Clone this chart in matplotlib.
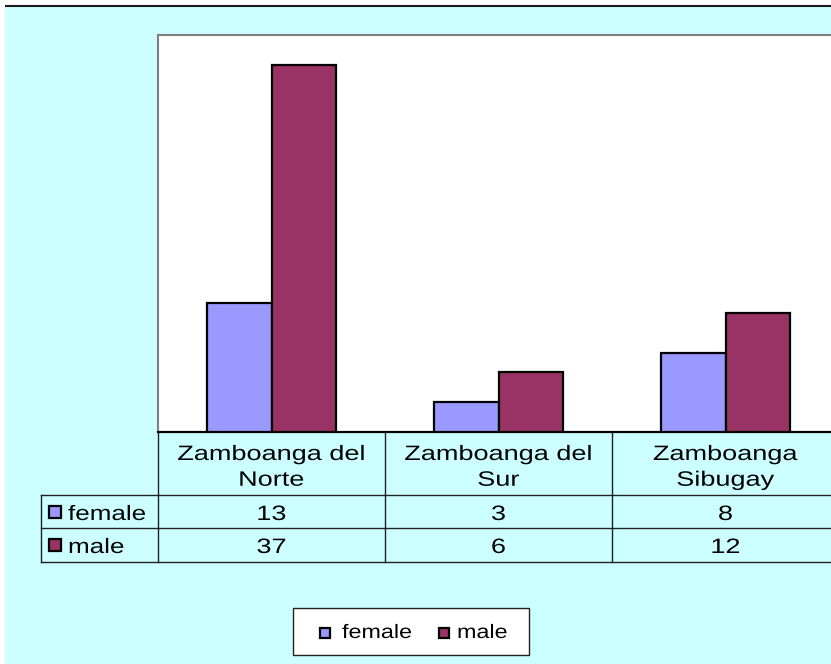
import matplotlib
matplotlib.use("Agg")
import matplotlib.pyplot as plt
from matplotlib.patches import Rectangle
from matplotlib.patheffects import AbstractPathEffect
from matplotlib.transforms import Affine2D, blended_transform_factory

# ---- data ----
regions = ["Zamboanga del\nNorte", "Zamboanga del\nSur", "Zamboanga\nSibugay"]
series_names = ["female", "male"]
female = [13, 3, 8]
male = [37, 6, 12]
series_values = [female, male]

BG = "#CCFFFF"
COLORS = ["#9999FF", "#993366"]

plt.rcParams["font.family"] = ["Liberation Sans", "DejaVu Sans"]


class HStretch(AbstractPathEffect):
    """Draw text glyphs widened horizontally (wide spreadsheet-style lettering)."""

    def __init__(self, sx, anchor="center"):
        super().__init__()
        self.sx = sx
        self.anchor = anchor

    def draw_path(self, renderer, gc, tpath, affine, rgbFace=None):
        ext = tpath.get_extents()
        c = (ext.x0 + ext.x1) / 2 if self.anchor == "center" else 0.0
        pre = Affine2D().translate(-c, 0).scale(self.sx, 1).translate(c, 0)
        renderer.draw_path(gc, tpath, pre + affine, rgbFace)


W, H = 831, 664
fig = plt.figure(figsize=(W / 100, H / 100), dpi=100)
fig.patch.set_facecolor("white")

# full-figure pixel canvas for the chart area, data table and legend
bg = fig.add_axes([0, 0, 1, 1], zorder=0)
bg.set_xlim(0, W)
bg.set_ylim(H, 0)
bg.axis("off")
bg.add_patch(Rectangle((5, 6), W, H, facecolor=BG, edgecolor="none"))
bg.plot([5, W], [6, 6], color="#1a1a1a", lw=1.5, solid_capstyle="butt")

# plot area
x_left, x_right, y_top, y_base = 158, 839, 35, 432
ax = fig.add_axes([x_left / W, 1 - y_base / H,
                   (x_right - x_left) / W, (y_base - y_top) / H], zorder=2)
ax.set_facecolor("white")
n = len(regions)
ax.set_xlim(-0.5, n - 0.5)
ax.set_ylim(0, 40)
ax.set_xticks([])
ax.set_yticks([])
for side in ("left", "top", "right"):
    ax.spines[side].set_color("#808080")
    ax.spines[side].set_linewidth(1.5)
ax.spines["bottom"].set_color("black")
ax.spines["bottom"].set_linewidth(1.6)

bw = 0.286
for k, (vals, col) in enumerate(zip(series_values, COLORS)):
    xs = [i + (k - 0.5) * bw for i in range(n)]
    ax.bar(xs, vals, width=bw, color=col, edgecolor="black",
           linewidth=1.6, zorder=3)

# ---- data table under the plot ----
blend = blended_transform_factory(ax.transData, bg.transData)
tfont = 15
stretch_tab = [HStretch(1.3)]
row_top, row1, row2, row_bot = y_base, 495, 528, 562
tab_left = 41

# horizontal rules
for yy in (row1, row2, row_bot):
    bg.plot([tab_left, W], [yy, yy], color="#202020", lw=1.0)
bg.plot([tab_left, tab_left], [row1, row_bot], color="#202020", lw=1.0)
# column dividers at category boundaries
for b in range(n + 1):
    bg.plot([b - 0.5, b - 0.5], [row_top, row_bot], color="#202020", lw=1.0,
            transform=blend, clip_on=False)

for i, name in enumerate(regions):
    bg.text(i, 445, name, transform=blend, ha="center", va="top",
            fontsize=tfont, linespacing=1.45, path_effects=stretch_tab,
            clip_on=False)
    for vals, yb in zip(series_values, (520, 553)):
        bg.text(i, yb, str(vals[i]), transform=blend, ha="center",
                va="baseline", fontsize=tfont, path_effects=stretch_tab,
                clip_on=False)

# row headers with colour keys
for sname, col, yb in zip(series_names, COLORS, (520, 553)):
    bg.add_patch(Rectangle((48.5, yb - 14.5), 12, 12, facecolor=col,
                           edgecolor="black", linewidth=1.6))
    bg.text(68, yb, sname, ha="left", va="baseline", fontsize=tfont,
            path_effects=[HStretch(1.25, anchor="left")])

# ---- legend ----
bg.add_patch(Rectangle((293, 608), 236, 47, facecolor="white",
                       edgecolor="#202020", linewidth=1.0))
for sname, col, mx, tx in zip(series_names, COLORS, (319.5, 438.5), (342, 457)):
    bg.add_patch(Rectangle((mx, 627.5), 10.5, 10, facecolor=col,
                           edgecolor="black", linewidth=1.6))
    bg.text(tx, 638, sname, ha="left", va="baseline", fontsize=14,
            path_effects=[HStretch(1.2, anchor="left")])

fig.savefig("out.png", dpi=100)
